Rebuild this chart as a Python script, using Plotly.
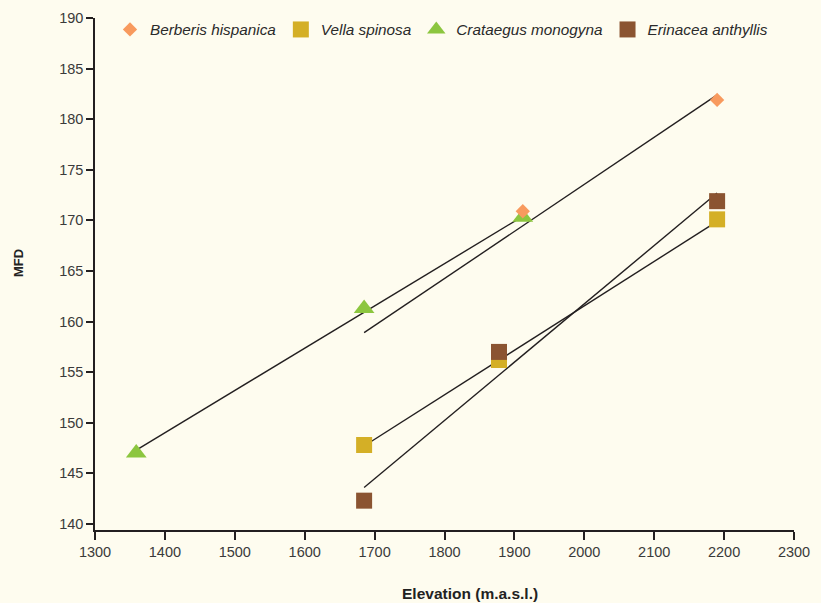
import plotly.graph_objects as go

# ---- data ----
species = ["Berberis hispanica", "Vella spinosa", "Crataegus monogyna", "Erinacea anthyllis"]

berberis_x = [1912, 2190]
berberis_y = [170.9, 181.9]

vella_x = [1685, 1878, 2190]
vella_y = [147.8, 156.2, 170.1]

crataegus_x = [1359, 1685, 1912]
crataegus_y = [147.0, 161.3, 170.3]

erinacea_x = [1685, 1878, 2190]
erinacea_y = [142.3, 157.0, 171.9]

# regression (trend) lines: start / end elevation and fitted MFD
trend_x_start = [1685, 1685, 1359, 1685]
trend_x_end = [2190, 2190, 1912, 2190]
trend_y_start = [158.9, 147.7, 147.3, 143.6]
trend_y_end = [182.4, 169.9, 170.4, 172.7]

x_ticks = [1300, 1400, 1500, 1600, 1700, 1800, 1900, 2000, 2100, 2200, 2300]
y_ticks = [140, 145, 150, 155, 160, 165, 170, 175, 180, 185, 190]

# ---- styling ----
BG = "#FEFCEF"
AXIS = "#231F20"
TXT = "#3A3A3A"
colors = {"Berberis hispanica": "#F89A5E", "Vella spinosa": "#D4AF26",
          "Crataegus monogyna": "#8CC63F", "Erinacea anthyllis": "#8B5431"}
symbols = {"Berberis hispanica": "diamond", "Vella spinosa": "square",
           "Crataegus monogyna": "triangle-up", "Erinacea anthyllis": "square"}
sizes = {"Berberis hispanica": 11, "Vella spinosa": 16,
         "Crataegus monogyna": 18, "Erinacea anthyllis": 16}

fig = go.Figure()

for i in range(len(species)):
    fig.add_trace(go.Scatter(
        x=[trend_x_start[i], trend_x_end[i]],
        y=[trend_y_start[i], trend_y_end[i]],
        mode="lines", line=dict(color=AXIS, width=1.4),
        showlegend=False, hoverinfo="skip"))

series = {
    "Vella spinosa": (vella_x, vella_y),
    "Crataegus monogyna": (crataegus_x, crataegus_y),
    "Berberis hispanica": (berberis_x, berberis_y),
    "Erinacea anthyllis": (erinacea_x, erinacea_y),
}
for name, (xs, ys) in series.items():
    fig.add_trace(go.Scatter(
        x=xs, y=ys, mode="markers", name=name,
        legendrank=species.index(name) + 1,
        marker=dict(symbol=symbols[name], size=sizes[name], color=colors[name],
                    line=dict(width=0))))

axis_common = dict(showline=True, linecolor=AXIS, linewidth=1.5, ticks="outside",
                   tickwidth=1.5, tickcolor=AXIS, showgrid=False, automargin=False,
                   zeroline=False, tickfont=dict(family="Liberation Sans, Arial", size=14.5, color=TXT))

fig.update_xaxes(range=[1300, 2300], tickvals=x_ticks, ticklen=8, **axis_common)
fig.update_yaxes(range=[139.4, 190], tickvals=y_ticks, ticklen=7, **axis_common)

# page has an 8px body margin; figure coords = window coords - 8
OFF = 8
W, H = 821 - OFF, 603 - OFF
l, r, t, b = 95 - OFF, 27, 18 - OFF, 73
pw, ph = W - l - r, H - t - b

def px(xw):
    return (xw - OFF - l) / pw

def py(yw):
    return 1 - (yw - OFF - t) / ph

fig.update_layout(
    width=W, height=H,
    margin=dict(l=l, r=r, t=t, b=b, autoexpand=False),
    paper_bgcolor=BG, plot_bgcolor=BG,
    font=dict(family="Liberation Sans, Arial", color=TXT),
    legend=dict(orientation="h", x=px(110), y=py(13), xanchor="left", yanchor="top",
                bgcolor="rgba(0,0,0,0)", font=dict(size=15.3, style="italic", color="#2A2A2A"),
                itemsizing="trace", tracegroupgap=0),
    annotations=[
        dict(text="<b>Elevation (m.a.s.l.)</b>", x=px(470), y=py(593), xref="paper", yref="paper",
             xanchor="center", yanchor="middle",
             showarrow=False, font=dict(size=15.5, color="#222222")),
        dict(text="<b>MFD</b>", textangle=-90, x=px(18), y=py(263), xref="paper", yref="paper",
             xanchor="center", yanchor="middle",
             showarrow=False, font=dict(size=13, color="#222222")),
    ],
)

fig.write_html("out.html",
               post_script="document.body.style.background='%s';"
                           "document.documentElement.style.background='%s';" % (BG, BG))
